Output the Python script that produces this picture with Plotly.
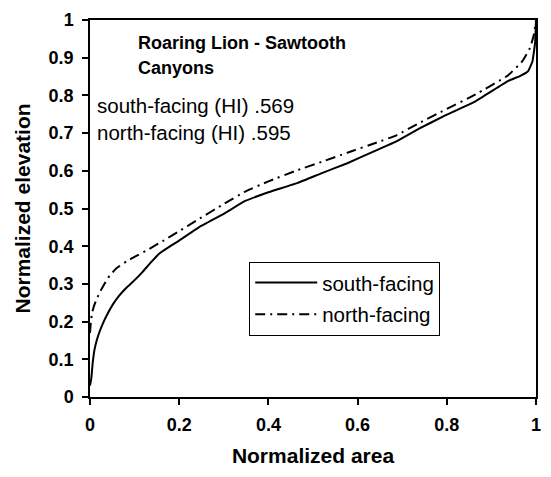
import plotly.graph_objects as go

# Data
south_x = [0.0, 0.003, 0.006, 0.01, 0.015, 0.022, 0.03, 0.04, 0.051, 0.065, 0.081, 0.1,
           0.118, 0.135, 0.155, 0.18, 0.2, 0.244, 0.3, 0.348, 0.4, 0.466, 0.52, 0.577,
           0.643, 0.687, 0.74, 0.79, 0.865, 0.937, 0.965, 0.982, 0.992, 0.998, 1.0]
south_y = [0.03, 0.05, 0.09, 0.125, 0.15, 0.175, 0.198, 0.222, 0.245, 0.268, 0.289, 0.31,
           0.332, 0.355, 0.38, 0.4, 0.415, 0.45, 0.486, 0.52, 0.543, 0.568, 0.594, 0.62,
           0.655, 0.678, 0.713, 0.743, 0.785, 0.838, 0.852, 0.864, 0.89, 0.94, 1.0]

north_x = [0.0, 0.002, 0.005, 0.01, 0.015, 0.022, 0.03, 0.044, 0.06, 0.082, 0.105, 0.133,
           0.165, 0.2, 0.244, 0.3, 0.348, 0.4, 0.466, 0.52, 0.577, 0.643, 0.687, 0.74,
           0.79, 0.865, 0.937, 0.969, 0.987, 0.995, 1.0]
north_y = [0.17, 0.2, 0.225, 0.245, 0.26, 0.278, 0.295, 0.322, 0.342, 0.36, 0.375, 0.393,
           0.415, 0.44, 0.472, 0.512, 0.545, 0.572, 0.602, 0.624, 0.648, 0.675, 0.694,
           0.728, 0.758, 0.803, 0.853, 0.89, 0.927, 0.96, 1.0]

series_names = ["south-facing", "north-facing"]
x_ticks = [0, 0.2, 0.4, 0.6, 0.8, 1]
x_tick_labels = ["0", "0.2", "0.4", "0.6", "0.8", "1"]
y_ticks = [0, 0.1, 0.2, 0.3, 0.4, 0.5, 0.6, 0.7, 0.8, 0.9, 1]
y_tick_labels = ["0", "0.1", "0.2", "0.3", "0.4", "0.5", "0.6", "0.7", "0.8", "0.9", "1"]
title_lines = ["Roaring Lion - Sawtooth", "Canyons"]
hi_lines = ["south-facing (HI) .569", "north-facing (HI) .595"]

FONT = "Liberation Sans, Arial, sans-serif"

fig = go.Figure()
fig.add_trace(go.Scatter(x=south_x, y=south_y, mode="lines", name=series_names[0],
                         legendgroup="s",
                         line=dict(color="black", width=2, shape="spline", smoothing=0.3)))
fig.add_trace(go.Scatter(x=north_x, y=north_y, mode="lines", name=series_names[1],
                         legendgroup="n",
                         line=dict(color="black", width=2, dash="10px,5px,2px,5px",
                                   shape="spline", smoothing=0.3)))

axis_common = dict(
    range=[0, 1], showline=True, linecolor="black", linewidth=1.5, mirror=True,
    ticks="outside", ticklen=6, tickcolor="black", tickwidth=1.5,
    showgrid=False, zeroline=False, ticklabelstandoff=5,
    tickfont=dict(family=FONT, size=18, color="black", weight="bold"),
)

fig.update_xaxes(**axis_common, tickvals=x_ticks, ticktext=x_tick_labels,
                 title=dict(text="Normalized area", standoff=14,
                            font=dict(family=FONT, size=21, color="black", weight="bold")))
fig.update_yaxes(**axis_common, tickvals=y_ticks, ticktext=y_tick_labels,
                 title=dict(text="Normalized elevation", standoff=12,
                            font=dict(family=FONT, size=21, color="black", weight="bold")))

def px2paper_x(px):
    return (px - 90) / 451.0

def px2paper_y(py):
    return (397 - py) / 382.0

annotations = [
    dict(text=title_lines[0], x=px2paper_x(137), y=px2paper_y(38),
         font=dict(family=FONT, size=18, color="black", weight="bold")),
    dict(text=title_lines[1], x=px2paper_x(137), y=px2paper_y(64),
         font=dict(family=FONT, size=18, color="black", weight="bold")),
    dict(text=hi_lines[0], x=px2paper_x(95), y=px2paper_y(102),
         font=dict(family=FONT, size=20.5, color="black")),
    dict(text=hi_lines[1], x=px2paper_x(95), y=px2paper_y(129),
         font=dict(family=FONT, size=20.5, color="black")),
]
for a in annotations:
    fig.add_annotation(xref="paper", yref="paper", xanchor="left", yanchor="middle",
                       showarrow=False, **a)

fig.update_layout(
    width=551, height=477,
    margin=dict(l=90, r=10, t=15, b=80),
    paper_bgcolor="white", plot_bgcolor="white",
    showlegend=True,
    legend=dict(x=px2paper_x(251), y=px2paper_y(260), xanchor="left", yanchor="top",
                bordercolor="black", borderwidth=1, bgcolor="white",
                font=dict(family=FONT, size=20.5, color="black"),
                tracegroupgap=2, itemwidth=62),
)

fig.write_html("out.html")
